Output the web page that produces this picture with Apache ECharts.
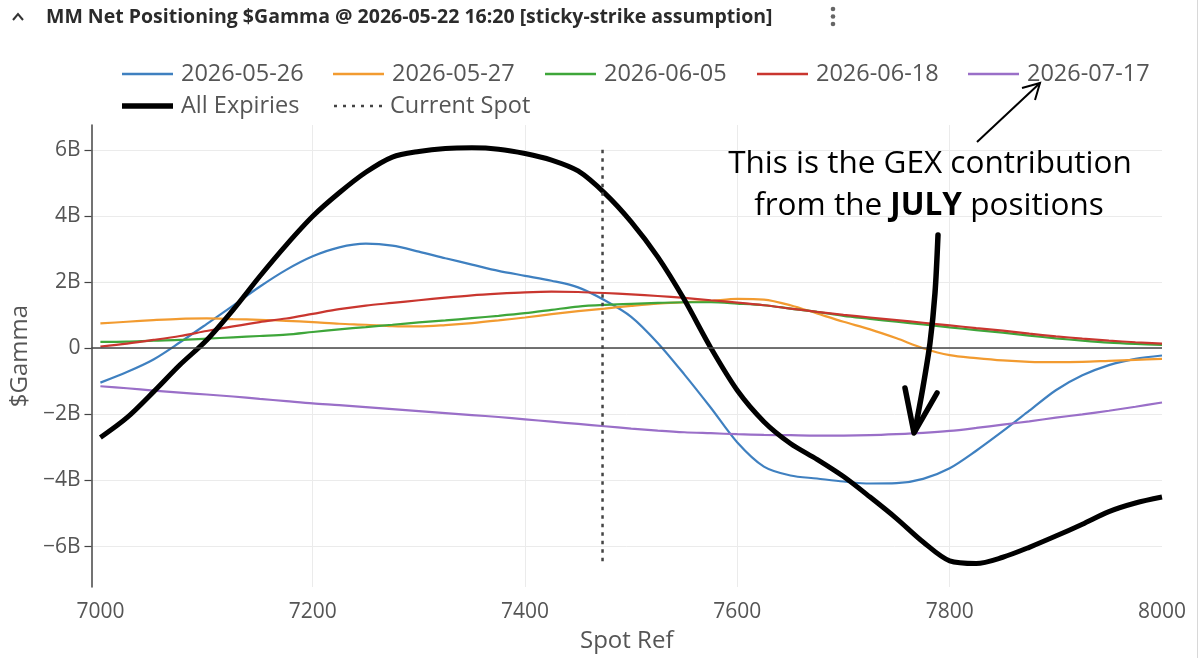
<!DOCTYPE html>
<html><head><meta charset="utf-8">
<script src="https://cdn.jsdelivr.net/npm/echarts@6/dist/echarts.min.js"></script>
<style>html,body{margin:0;padding:0;background:#fff}#c{width:1200px;height:658px}</style>
</head><body><div id="c"></div>
<script>
// ---- data (values in billions of $Gamma) ----
const spotRef = [7000,7025,7050,7075,7100,7125,7150,7175,7200,7225,7250,7275,7300,7325,7350,7375,7400,7425,7450,7475,7500,7525,7550,7575,7600,7625,7650,7675,7700,7725,7750,7775,7800,7825,7850,7875,7900,7925,7950,7975,8000];
const expiryNames = ['2026-05-26','2026-05-27','2026-06-05','2026-06-18','2026-07-17'];
const gamma0526 = [-1.04,-0.72,-0.34,0.18,0.73,1.29,1.86,2.37,2.78,3.05,3.16,3.10,2.92,2.72,2.53,2.34,2.19,2.04,1.84,1.45,0.95,0.16,-0.79,-1.80,-2.85,-3.58,-3.85,-3.94,-4.03,-4.09,-4.08,-3.95,-3.63,-3.10,-2.51,-1.89,-1.27,-0.82,-0.51,-0.32,-0.22];
const gamma0527 = [0.75,0.80,0.85,0.89,0.90,0.88,0.86,0.83,0.79,0.74,0.71,0.67,0.66,0.70,0.76,0.84,0.93,1.03,1.12,1.20,1.28,1.35,1.39,1.43,1.49,1.47,1.30,1.05,0.80,0.57,0.30,0.00,-0.21,-0.30,-0.37,-0.41,-0.42,-0.41,-0.38,-0.35,-0.32];
const gamma0605 = [0.19,0.20,0.23,0.25,0.29,0.33,0.37,0.41,0.49,0.57,0.64,0.71,0.78,0.84,0.91,0.98,1.06,1.16,1.26,1.31,1.34,1.37,1.39,1.39,1.35,1.30,1.20,1.10,0.98,0.89,0.80,0.72,0.63,0.55,0.47,0.38,0.30,0.23,0.17,0.13,0.10];
const gamma0618 = [0.05,0.14,0.25,0.37,0.52,0.66,0.79,0.90,1.04,1.18,1.29,1.37,1.45,1.53,1.60,1.65,1.69,1.71,1.70,1.67,1.63,1.58,1.52,1.45,1.38,1.30,1.20,1.10,1.01,0.93,0.85,0.77,0.69,0.61,0.53,0.44,0.36,0.29,0.23,0.18,0.14];
const gamma0717 = [-1.15,-1.21,-1.28,-1.34,-1.40,-1.46,-1.53,-1.60,-1.67,-1.72,-1.78,-1.84,-1.90,-1.96,-2.02,-2.08,-2.15,-2.22,-2.29,-2.36,-2.43,-2.49,-2.54,-2.57,-2.60,-2.62,-2.63,-2.64,-2.64,-2.63,-2.60,-2.56,-2.50,-2.41,-2.31,-2.21,-2.10,-2.00,-1.89,-1.77,-1.64];
const allExpiries = [-2.70,-2.10,-1.32,-0.50,0.24,1.16,2.17,3.12,3.99,4.70,5.32,5.78,5.95,6.04,6.06,6.02,5.89,5.69,5.36,4.69,3.82,2.76,1.47,0.01,-1.28,-2.22,-2.88,-3.36,-3.88,-4.50,-5.15,-5.86,-6.43,-6.51,-6.32,-6.02,-5.68,-5.32,-4.94,-4.68,-4.50];
const currentSpot = 7473;
const currentSpotSpan = [6.0, -6.55];
const yTickValues = [-6,-4,-2,0,2,4,6];
const xTickLabels = [7000,7200,7400,7600,7800,8000];
const xGridValues = [7200,7400,7600,7800];

const expirySeries = [gamma0526, gamma0527, gamma0605, gamma0618, gamma0717];
const colors = ['#3f80c0','#f29b30','#3ea63a','#c9362f','#9a6fc8'];
const FONT = 'Open Sans';
const pairs = arr => spotRef.map((x, i) => [x, arr[i]]);

const series = expirySeries.map((arr, i) => ({
  name: expiryNames[i], type: 'line', data: pairs(arr), symbol: 'none', smooth: 0.3,
  lineStyle: { color: colors[i], width: 2.2 }, itemStyle: { color: colors[i] }, z: 2
}));
series[0].markLine = {
  silent: true, symbol: 'none', label: { show: false }, animation: false,
  lineStyle: { color: '#444', width: 1.5, type: 'solid' }, data: [{ yAxis: 0 }]
};
series.push({
  name: 'All Expiries', type: 'line', data: pairs(allExpiries), symbol: 'none', smooth: 0.3,
  lineStyle: { color: '#000', width: 5 }, itemStyle: { color: '#000' }, z: 4
});
series.push({
  name: 'Current Spot', type: 'line', symbol: 'none',
  data: currentSpotSpan.map(v => [currentSpot, v]),
  lineStyle: { color: '#444', width: 2.5, type: [3.5, 5] }, itemStyle: { color: '#444' }, z: 5
});

const SOLID_ICON = 'path://M0,0H10V1H0Z';
const DOT_ICON = 'path://M0,0h3v1h-3z M9,0h3v1h-3z M18,0h3v1h-3z M27,0h3v1h-3z M36,0h3v1h-3z M45,0h3v1h-3z';
function leg(name, left, top, icon, w, h) {
  return {
    data: [name], left, top, itemWidth: w, itemHeight: h, itemGap: 0, selectedMode: false,
    icon: icon, symbolKeepAspect: false,
    textStyle: { fontFamily: FONT, fontSize: 23.5, color: '#555', padding: [0, 0, 0, 3], lineHeight: 28 }
  };
}
const legends = [
  leg(expiryNames[0], 117, 55, SOLID_ICON, 51, 2.4), leg(expiryNames[1], 328, 55, SOLID_ICON, 51, 2.4),
  leg(expiryNames[2], 540, 55, SOLID_ICON, 51, 2.4), leg(expiryNames[3], 752, 55, SOLID_ICON, 51, 2.4),
  leg(expiryNames[4], 963, 55, SOLID_ICON, 51, 2.4),
  leg('All Expiries', 117, 87, SOLID_ICON, 51, 5.5), leg('Current Spot', 329, 87, DOT_ICON, 48, 2.6)
];

const chart = echarts.init(document.getElementById('c'), null, { renderer: 'canvas' });
chart.setOption({
  animation: false,
  backgroundColor: '#fff',
  legend: legends,
  grid: { left: 83, right: 38, top: 125, bottom: 65, containLabel: false },
  xAxis: {
    type: 'value', min: 6991.6, max: 8000,
    name: 'Spot Ref', nameLocation: 'middle', nameGap: 42,
    nameTextStyle: { fontFamily: FONT, fontSize: 24, color: '#555' },
    axisLine: { show: false },
    axisTick: { show: false, customValues: xGridValues },
    axisLabel: { customValues: xTickLabels, fontFamily: FONT, fontSize: 21, color: '#555', margin: 15, formatter: v => String(v) },
    splitLine: { show: true, lineStyle: { color: '#ebebeb', width: 1 } }
  },
  yAxis: {
    type: 'value', min: -7.22, max: 6.75,
    name: '$Gamma', nameLocation: 'middle', nameGap: 58, nameRotate: 90,
    nameTextStyle: { fontFamily: FONT, fontSize: 24, color: '#555' },
    axisLine: { show: true, lineStyle: { color: '#444', width: 1.5 } },
    axisTick: { show: true, length: 7, inside: false, customValues: yTickValues, lineStyle: { color: '#444', width: 1.2 } },
    axisLabel: {
      customValues: yTickValues, fontFamily: FONT, fontSize: 21, color: '#555', margin: 11,
      formatter: v => v === 0 ? '0' : (v < 0 ? '\u2212' : '') + Math.abs(v) + 'B'
    },
    splitLine: { show: true, lineStyle: { color: '#ebebeb', width: 1 } }
  },
  series,
  graphic: [
    { type: 'polyline', shape: { points: [[13, 20], [18, 14], [23, 20]] }, style: { stroke: '#333', lineWidth: 2, fill: null } },
    { type: 'text', x: 46, y: 17, style: { text: 'MM Net Positioning $Gamma @ 2026-05-22 16:20 [sticky-strike assumption]', fontFamily: FONT, fontSize: 19.5, fontWeight: 'bold', fill: '#2b2b2b', verticalAlign: 'middle', align: 'left' } },
    { type: 'circle', shape: { cx: 833, cy: 9, r: 2.3 }, style: { fill: '#666' } },
    { type: 'circle', shape: { cx: 833, cy: 16.5, r: 2.3 }, style: { fill: '#666' } },
    { type: 'circle', shape: { cx: 833, cy: 24, r: 2.3 }, style: { fill: '#666' } },
    { type: 'line', shape: { x1: 1197.5, y1: 0, x2: 1197.5, y2: 658 }, style: { stroke: '#d8d8d8', lineWidth: 1 } },
    { type: 'text', x: 930, y: 164, z: 100, style: { text: 'This is the GEX contribution', fontFamily: FONT, fontSize: 31.5, fill: '#000', align: 'center', verticalAlign: 'middle' } },
    { type: 'text', x: 929, y: 206, z: 100, style: { text: 'from the {b|JULY} positions', fontFamily: FONT, fontSize: 31.5, fill: '#000', align: 'center', verticalAlign: 'middle', rich: { b: { fontFamily: FONT, fontSize: 31.5, fontWeight: 'bold', fill: '#000' } } } },
    { type: 'line', z: 100, shape: { x1: 977, y1: 142, x2: 1040, y2: 83 }, style: { stroke: '#000', lineWidth: 2 } },
    { type: 'polyline', z: 100, shape: { points: [[1022, 88], [1040, 83], [1035, 100]] }, style: { stroke: '#000', lineWidth: 2, fill: null } },
    { type: 'polyline', z: 100, shape: { points: [[938, 235], [935, 293], [930, 343], [923, 387], [915, 430]], smooth: 0.3 }, style: { stroke: '#000', lineWidth: 5.5, lineCap: 'round', fill: null } },
    { type: 'polyline', z: 100, shape: { points: [[905, 388], [914, 433], [937, 393]] }, style: { stroke: '#000', lineWidth: 5.5, lineCap: 'round', lineJoin: 'round', fill: null } }
  ]
});
</script>
</body></html>
